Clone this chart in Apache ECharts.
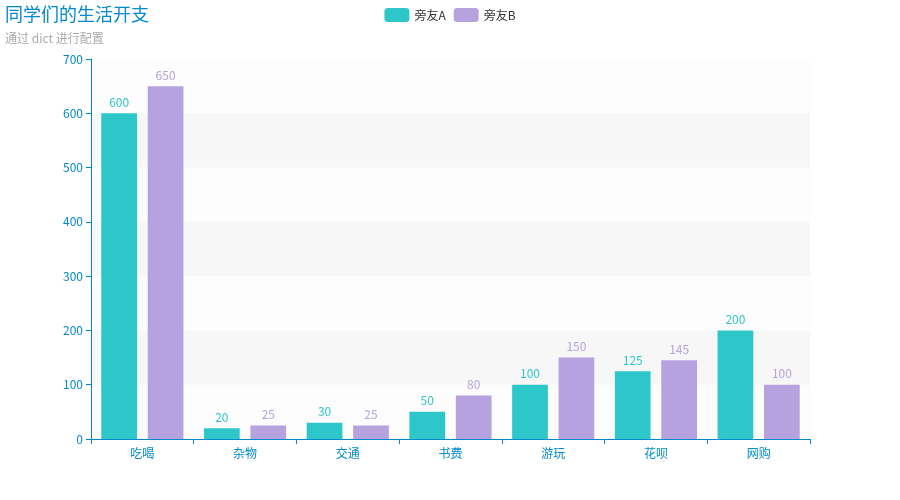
<!DOCTYPE html>
<html><head><meta charset="utf-8">
<script src="https://cdn.jsdelivr.net/npm/echarts@6/dist/echarts.min.js"></script>
<style>html,body{margin:0;padding:0;background:#fff}#c{width:900px;height:500px}</style>
</head><body><div id="c"></div>
<script>
var categories = ["吃喝", "杂物", "交通", "书费", "游玩", "花呗", "网购"];
var seriesNames = ["旁友A", "旁友B"];
var valuesA = [600, 20, 30, 50, 100, 125, 200];
var valuesB = [650, 25, 25, 80, 150, 145, 100];
var yTicks = [0, 100, 200, 300, 400, 500, 600, 700];

var font = '"Noto Sans CJK SC", "Microsoft YaHei", sans-serif';
var colors = ['#2ec7c9', '#b6a2de'];
var chart = echarts.init(document.getElementById('c'));
chart.setOption({
  color: colors,
  textStyle: {fontFamily: font},
  title: {
    text: '同学们的生活开支', subtext: '通过 dict 进行配置',
    left: 0, top: 0, itemGap: 9,
    textStyle: {color: '#008acd', fontSize: 18, fontWeight: 'normal', fontFamily: font},
    subtextStyle: {color: '#aaaaaa', fontSize: 12, fontFamily: font}
  },
  legend: {
    top: 3, left: 'center', itemWidth: 25, itemHeight: 14,
    textStyle: {color: '#333', fontSize: 12, fontFamily: font},
    data: seriesNames
  },
  grid: {left: 91, right: 90, top: 59, bottom: 61},
  xAxis: {
    type: 'category', data: categories,
    axisLine: {lineStyle: {color: '#008acd'}},
    axisTick: {show: true, lineStyle: {color: '#008acd'}},
    axisLabel: {color: '#008acd', fontSize: 12, fontFamily: font},
    splitLine: {show: false}
  },
  yAxis: {
    type: 'value', min: yTicks[0], max: yTicks[yTicks.length - 1], interval: 100,
    axisLine: {show: true, lineStyle: {color: '#008acd'}},
    axisTick: {show: true, lineStyle: {color: '#008acd'}},
    axisLabel: {color: '#008acd', fontSize: 12, fontFamily: font},
    splitLine: {show: false},
    splitArea: {show: true, areaStyle: {color: ['#fdfdfd', '#f7f7f7']}}
  },
  series: [
    {name: seriesNames[0], type: 'bar', data: valuesA, barGap: '30%', barCategoryGap: '20%',
     itemStyle: {color: colors[0]},
     label: {show: true, position: 'top', color: colors[0], fontSize: 12, fontFamily: font}},
    {name: seriesNames[1], type: 'bar', data: valuesB, barGap: '30%', barCategoryGap: '20%',
     itemStyle: {color: colors[1]},
     label: {show: true, position: 'top', color: colors[1], fontSize: 12, fontFamily: font}}
  ]
});
</script></body></html>
